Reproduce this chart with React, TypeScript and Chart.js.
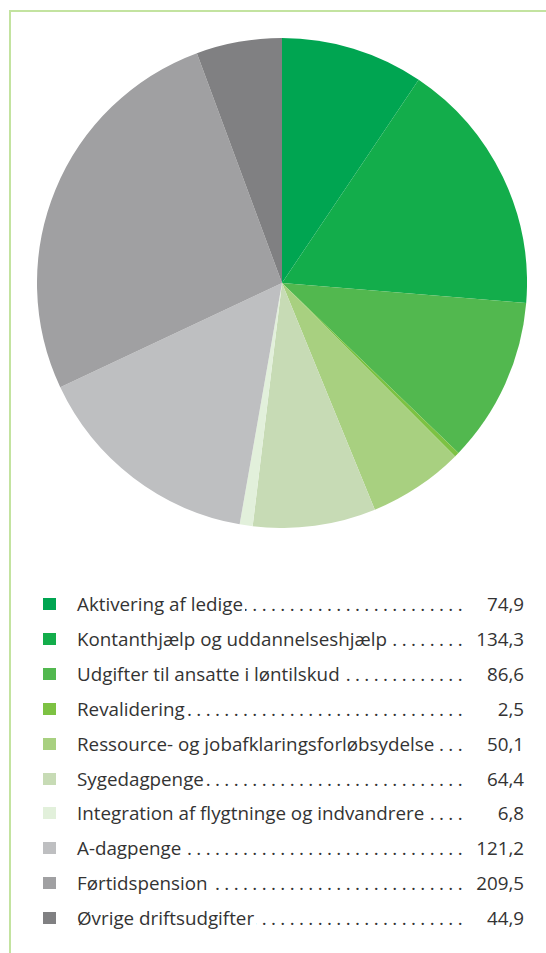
import React, { useEffect, useRef } from "react";
import { Chart, registerables } from "chart.js";

Chart.register(...registerables);

const labels = [
  "Aktivering af ledige",
  "Kontanthjælp og uddannelseshjælp",
  "Udgifter til ansatte i løntilskud",
  "Revalidering",
  "Ressource- og jobafklaringsforløbsydelse",
  "Sygedagpenge",
  "Integration af flygtninge og indvandrere",
  "A-dagpenge",
  "Førtidspension",
  "Øvrige driftsudgifter",
];
const values = [74.9, 134.3, 86.6, 2.5, 50.1, 64.4, 6.8, 121.2, 209.5, 44.9];
const valueLabels = ["74,9", "134,3", "86,6", "2,5", "50,1", "64,4", "6,8", "121,2", "209,5", "44,9"];
const colors = [
  "#00a551",
  "#13ad4b",
  "#52b84f",
  "#7dc243",
  "#a8d080",
  "#c7dbb5",
  "#e2f0db",
  "#bebfc1",
  "#a0a0a2",
  "#808082",
];

const FONT = "'Open Sans', sans-serif";

export default function App() {
  const ref = useRef<HTMLCanvasElement | null>(null);
  useEffect(() => {
    if (!ref.current) return;
    const chart = new Chart(ref.current, {
      type: "pie",
      data: {
        labels,
        datasets: [
          {
            data: values,
            backgroundColor: colors,
            borderWidth: 0,
          },
        ],
      },
      options: {
        responsive: false,
        animation: false,
        layout: { padding: 0 },
        plugins: { legend: { display: false }, tooltip: { enabled: false } },
      },
    });
    return () => chart.destroy();
  }, []);

  const dots = ".".repeat(80);

  return (
    <div style={{ position: "absolute", left: 0, top: 0, width: 546, height: 953, background: "#fff", overflow: "hidden" }}>
      <div style={{ position: "absolute", left: 9, top: 10, width: 537, height: 2, background: "#c3e3a0" }} />
      <div style={{ position: "absolute", left: 9, top: 10, width: 2, height: 943, background: "#c3e3a0" }} />
      <canvas
        ref={ref}
        width={490}
        height={490}
        style={{ position: "absolute", left: 37, top: 38, width: 490, height: 490 }}
      />
      {labels.map((l, i) => (
        <div
          key={l}
          style={{
            position: "absolute",
            left: 43,
            top: 604 + i * 34.9 - 14,
            width: 481,
            height: 28,
            display: "flex",
            alignItems: "center",
            fontFamily: FONT,
            fontSize: 18.8,
            color: "#333333",
            whiteSpace: "nowrap",
          }}
        >
          <div style={{ width: 13, height: 12, background: colors[i], flex: "none", marginRight: 21 }} />
          <span style={{ flex: "none" }}>{l}</span>
          <span
            style={{
              flex: "1 1 auto",
              overflow: "hidden",
              direction: "rtl",
              textAlign: "right",
              letterSpacing: 4.4,
              marginLeft: 2,
              width: 0,
            }}
          >
            {dots}
          </span>
          <span style={{ flex: "none", width: 57, textAlign: "right" }}>{valueLabels[i]}</span>
        </div>
      ))}
    </div>
  );
}
